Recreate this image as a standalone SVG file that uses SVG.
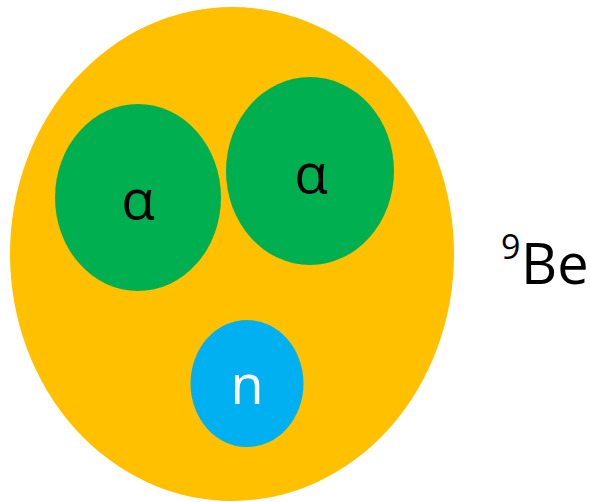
<svg xmlns="http://www.w3.org/2000/svg" width="590" height="502" viewBox="0 0 590 502">
<style>
.t{font-family:"Open Sans","Liberation Sans",sans-serif;text-anchor:middle}
</style>
<rect width="590" height="502" fill="#ffffff"/>
<g id="nucleus">
<ellipse cx="232" cy="254" rx="222" ry="247" fill="#FFC000"/>
</g>
<g id="alpha1">
<ellipse cx="138" cy="197.5" rx="83" ry="93.5" fill="#00B050"/>
<text class="t" x="138" y="219" font-size="55" fill="#000">α</text>
</g>
<g id="alpha2">
<ellipse cx="310" cy="171" rx="84" ry="94" fill="#00B050"/>
<text class="t" x="311" y="193" font-size="55" fill="#000">α</text>
</g>
<g id="neutron">
<ellipse cx="247" cy="383.5" rx="56.5" ry="63.5" fill="#00B0F0"/>
<text class="t" x="247" y="404" font-size="54" fill="#fff">n</text>
</g>
<g id="label">
<text x="501" y="259" font-family="Open Sans, Liberation Sans, sans-serif" font-size="34" fill="#000">9</text>
<text x="521" y="284" font-family="Open Sans, Liberation Sans, sans-serif" font-size="56" fill="#000">Be</text>
</g>
<g id="connectors"/>
</svg>
